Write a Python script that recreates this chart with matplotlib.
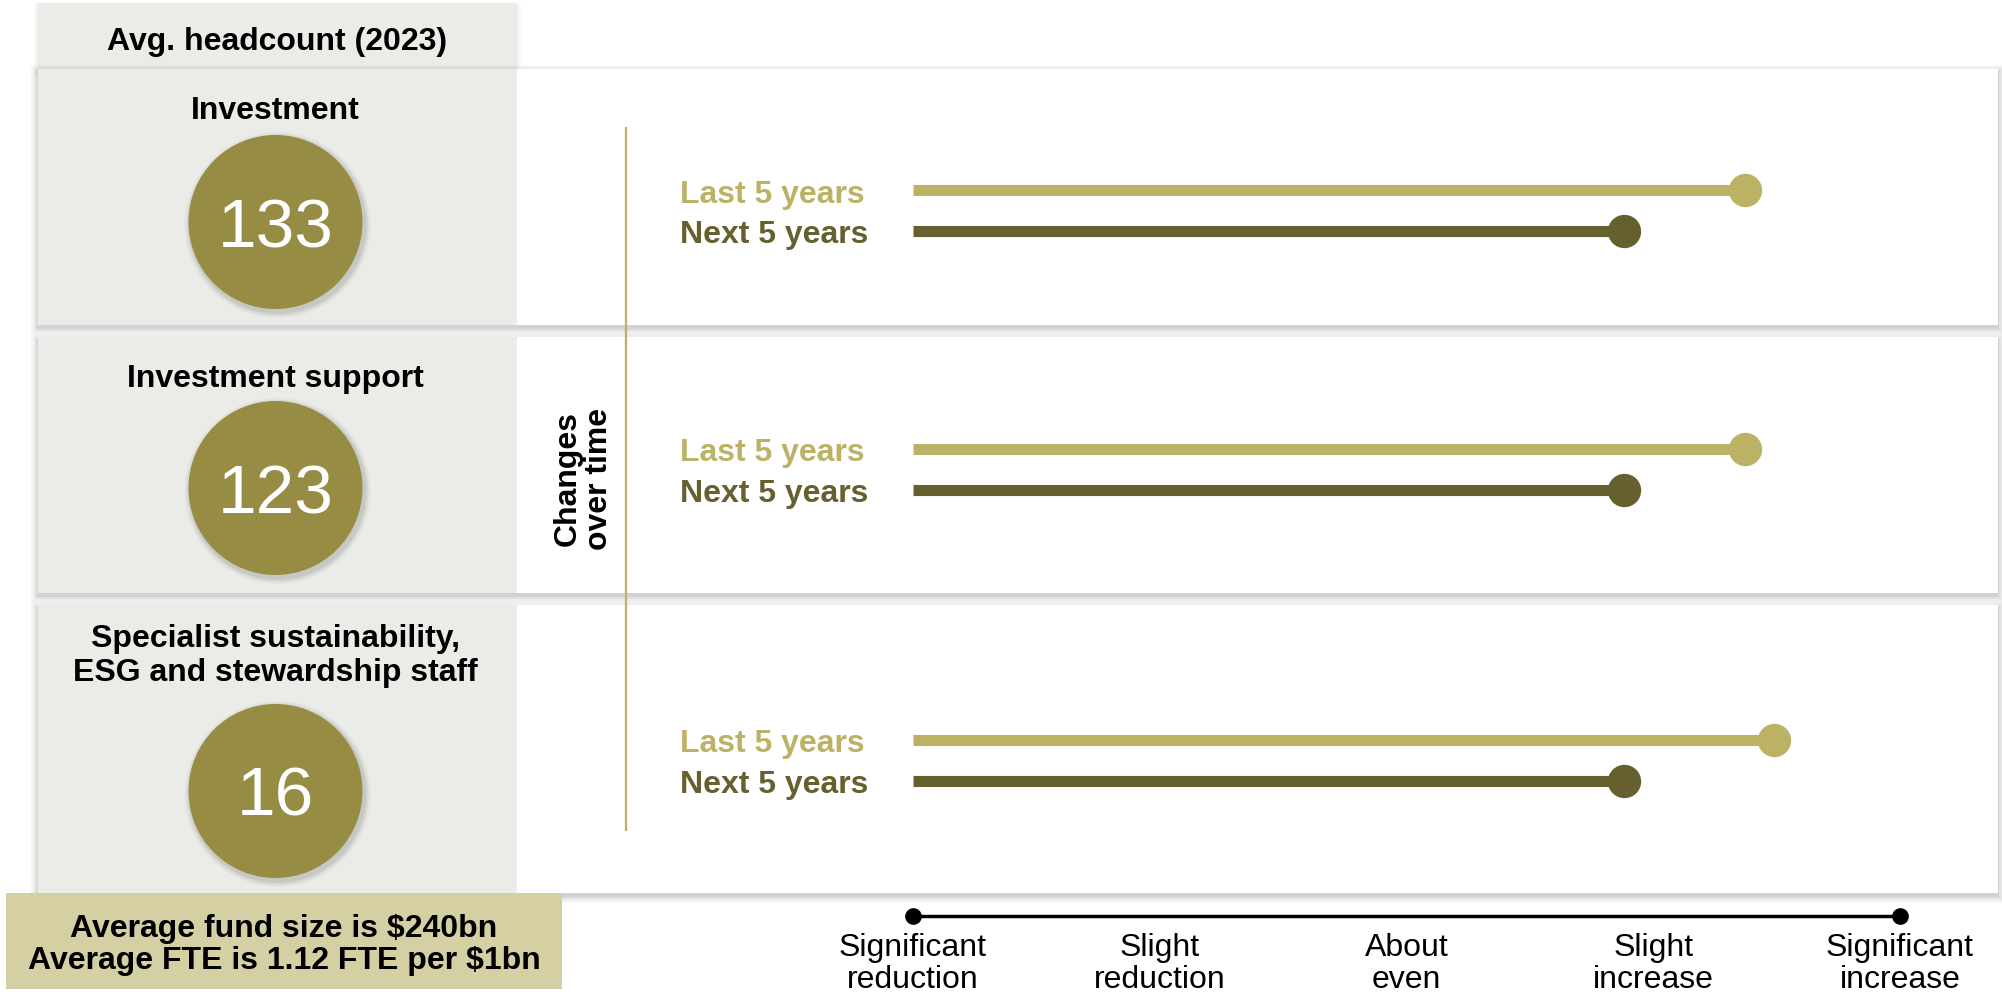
import matplotlib.pyplot as plt
from matplotlib.patches import Rectangle, Circle
from matplotlib import transforms

plt.rcParams['font.family'] = ['Liberation Sans', 'DejaVu Sans']

# data
categories = ['Investment', 'Investment support',
              'Specialist sustainability,\nESG and stewardship staff']
headcount = [133, 123, 16]
periods = ['Last 5 years', 'Next 5 years']
last_5 = [4.37, 4.37, 4.49]
next_5 = [3.88, 3.88, 3.88]
scale_labels = ['Significant\nreduction', 'Slight\nreduction', 'About\neven',
                'Slight\nincrease', 'Significant\nincrease']

LIGHT = '#bcb266'
DARK = '#665f2e'
BUBBLE = '#978c44'
PANEL_GREY = '#ebebe7'
BOLD_SIZE = 23

W, H = 2002, 995
fig = plt.figure(figsize=(W / 100, H / 100), dpi=100)
fig.patch.set_facecolor('white')

bg = fig.add_axes([0, 0, 1, 1])
bg.set_xlim(0, W)
bg.set_ylim(H, 0)
bg.axis('off')

# layout in pixels
col_x0, col_x1 = 38, 517
panel_x1 = 1998
panel_top = [70, 338, 606]
panel_bot = [326, 594, 894]
title_y = [111, 379, 656]
bubble_y = [223, 489, 792]
row_mid = [211, 470, 761]
scale_x0, scale_x1 = 913, 1900
row_gap = 41


def soft_shadow(x, y, w, h, layers=((7, 0.03), (5, 0.04), (3, 0.05), (1, 0.06))):
    for grow, a in layers:
        bg.add_patch(Rectangle((x - grow, y - grow + 3), w + 2 * grow, h + 2 * grow,
                               facecolor='black', edgecolor='none', alpha=a))


# header cell
soft_shadow(col_x0, 4, col_x1 - col_x0, 66, layers=((4, 0.02), (2, 0.03)))
bg.add_patch(Rectangle((col_x0, 4), col_x1 - col_x0, 80, facecolor=PANEL_GREY,
                       edgecolor='none'))
bg.text((col_x0 + col_x1) / 2, 42, 'Avg. headcount (2023)', ha='center', va='center',
        fontsize=BOLD_SIZE, fontweight='bold', color='black')

# panels
for i in range(3):
    t, b = panel_top[i], panel_bot[i]
    soft_shadow(col_x0, t, panel_x1 - col_x0, b - t)
    bg.add_patch(Rectangle((col_x0, t), panel_x1 - col_x0, b - t,
                           facecolor='white', edgecolor='none'))
    bg.add_patch(Rectangle((col_x0, t), col_x1 - col_x0, b - t,
                           facecolor=PANEL_GREY, edgecolor='none'))
    cx = (col_x0 + col_x1) / 2 - 2
    bg.text(cx, title_y[i], categories[i], ha='center', va='center',
            fontsize=BOLD_SIZE, fontweight='bold', linespacing=1.2)
    for grow, a in ((6, 0.03), (4, 0.05), (2, 0.07)):
        bg.add_patch(Circle((cx + 2, bubble_y[i] + 3), 87 + grow,
                            facecolor='black', edgecolor='none', alpha=a))
    bg.add_patch(Circle((cx, bubble_y[i]), 87, facecolor=BUBBLE, edgecolor='none'))
    bg.text(cx, bubble_y[i] + 6, str(headcount[i]), ha='center', va='center',
            fontsize=50, color='white')

# footer box
bg.add_patch(Rectangle((6, 894), 556, 96, facecolor='#d4d0a4', edgecolor='none'))
bg.text(284, 945, 'Average fund size is $240bn\nAverage FTE is 1.12 FTE per $1bn',
        ha='center', va='center', fontsize=BOLD_SIZE, fontweight='bold',
        linespacing=1.12)

# divider and side label
bg.plot([626, 626], [128, 832], color=LIGHT, lw=1.6, solid_capstyle='butt')
bg.text(583, 479, 'Changes\nover time', ha='center', va='center', rotation=90,
        fontsize=BOLD_SIZE, fontweight='bold', linespacing=1.05)

# lollipop rows
for i in range(3):
    top_px = row_mid[i] - row_gap * 1.5
    ax = fig.add_axes([scale_x0 / W, 1 - (top_px + row_gap * 3) / H,
                       (scale_x1 - scale_x0) / W, row_gap * 3 / H])
    ax.set_xlim(1, 5)
    ax.set_ylim(1.5, -1.5)
    ax.axis('off')
    vals = [last_5[i], next_5[i]]
    ys = [-0.5, 0.5]
    tr = transforms.blended_transform_factory(bg.transData, ax.transData)
    for v, y, c, name in zip(vals, ys, [LIGHT, DARK], periods):
        ax.plot([1, v], [y, y], color=c, lw=8, solid_capstyle='butt', clip_on=False)
        ax.plot([v], [y], 'o', color=c, ms=24, markeredgewidth=0, clip_on=False)
        ax.annotate(name, (680, y), xycoords=tr, xytext=(0, -4),
                    textcoords='offset pixels', ha='left', va='center',
                    fontsize=BOLD_SIZE, fontweight='bold', color=c,
                    annotation_clip=False)

# response scale
sax = fig.add_axes([scale_x0 / W, 1 - 927 / H, (scale_x1 - scale_x0) / W, 20 / H])
sax.set_xlim(1, 5)
sax.set_ylim(-1, 1)
sax.axis('off')
levels = list(range(1, len(scale_labels) + 1))
sax.plot([levels[0], levels[-1]], [0, 0], color='black', lw=2.5, clip_on=False)
sax.plot([levels[0], levels[-1]], [0, 0], 'o', color='black', ms=11, clip_on=False)
for lv, lab in zip(levels, scale_labels):
    sax.annotate(lab, (lv, 0), xytext=(0, -16), textcoords='offset pixels',
                 ha='center', va='top', fontsize=23, linespacing=1.07,
                 annotation_clip=False)

fig.savefig('out.png', dpi=100)
